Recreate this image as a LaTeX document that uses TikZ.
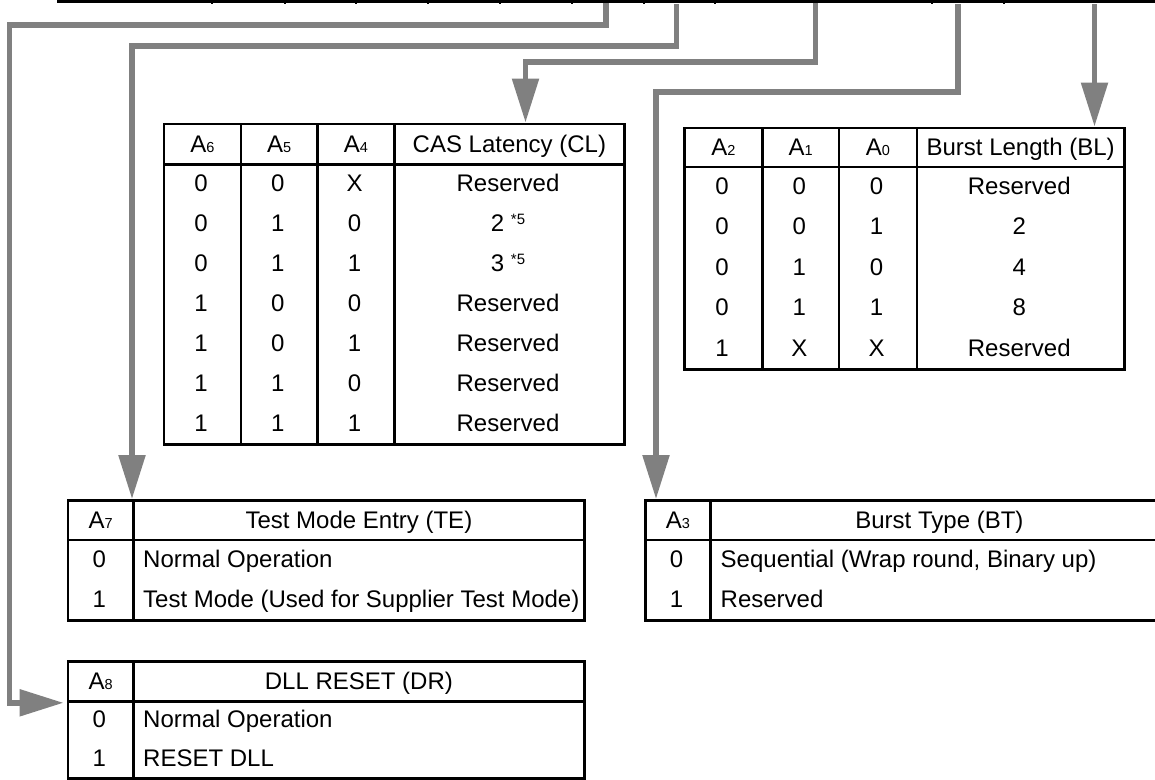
\documentclass[tikz,border=0pt]{standalone}
\usepackage{fontspec}
\setmainfont{Liberation Sans}
\usetikzlibrary{arrows.meta,calc}
\newcommand\sub[1]{{\fontsize{14.5}{14.5}\selectfont #1}}
\newcommand\supfive{\raisebox{7pt}{\fontsize{15}{15}\selectfont *5}}
\tikzset{
  tfont/.style={font=\fontsize{24}{26}\selectfont, text height=17pt, text depth=0pt},
  cellbox/.style={draw, line width=2.8pt, inner sep=0pt, anchor=north west, tfont},
  txt/.style={inner sep=0pt, tfont},
  ltxt/.style={inner sep=0pt, tfont, anchor=west},
  conn/.style={draw=gray, line width=5.5pt, line join=miter, -{Triangle[length=44pt,width=26pt]}},
}
\begin{document}
\begin{tikzpicture}[x=1pt,y=1pt]
\clip (0,0) rectangle (1155,-779);
\fill[white] (0,0) rectangle (1155,-779);

% bottom edge of the register diagram (cropped)
\draw[line width=3pt] (57,-1.5) -- (1160,-1.5);
\foreach \x in {212,285,356,428,500,572,644,715,932,1004}
  \draw[line width=2pt] (\x,0) -- (\x,-4);

% ---------- CAS latency table ----------
\foreach \n/\x/\w/\t in {0/162.5/77/A\sub{6},1/239.5/76.5/A\sub{5},2/316/77/A\sub{4},3/393/230/{CAS Latency (CL)}} {
  \node[cellbox, minimum width=\w, minimum height=40.5] (clh\n) at (\x,-122.5) {\t};
  \node[cellbox, minimum width=\w, minimum height=280] (clb\n) at (\x,-163) {};
}
\foreach \r/\a/\b/\c/\d in {0/0/0/X/Reserved,1/0/1/0/{2 \supfive},2/0/1/1/{3 \supfive},3/1/0/0/Reserved,4/1/0/1/Reserved,5/1/1/0/Reserved,6/1/1/1/Reserved} {
  \node[txt] (cla\r) at (201,{-183-40*\r}) {\a};
  \node[txt] (clbb\r) at (277.75,{-183-40*\r}) {\b};
  \node[txt] (clc\r) at (354.5,{-183-40*\r}) {\c};
  \node[txt] (cld\r) at (508,{-183-40*\r}) {\d};
}

% ---------- Burst length table ----------
\foreach \n/\x/\w/\t in {0/683/78/A\sub{2},1/761/76.5/A\sub{1},2/837.5/78/A\sub{0},3/915.5/207.5/{Burst Length (BL)}} {
  \node[cellbox, minimum width=\w, minimum height=39] (blh\n) at (\x,-126.5) {\t};
  \node[cellbox, minimum width=\w, minimum height=202.5] (blb\n) at (\x,-165.5) {};
}
\foreach \r/\a/\b/\c/\d in {0/0/0/0/Reserved,1/0/0/1/2,2/0/1/0/4,3/0/1/1/8,4/1/X/X/Reserved} {
  \node[txt] (bla\r) at (722,{-185.75-40.5*\r}) {\a};
  \node[txt] (blbb\r) at (799.25,{-185.75-40.5*\r}) {\b};
  \node[txt] (blc\r) at (876.5,{-185.75-40.5*\r}) {\c};
  \node[txt] (bld\r) at (1019.25,{-185.75-40.5*\r}) {\d};
}

% ---------- Test mode table ----------
\node[cellbox, minimum width=65.5, minimum height=39.5] (a7h0) at (66.5,-499) {A\sub{7}};
\node[cellbox, minimum width=451, minimum height=39.5] (a7h1) at (132,-499) {Test Mode Entry (TE)};
\node[cellbox, minimum width=65.5, minimum height=80.5] (a7b0) at (66.5,-538.5) {};
\node[cellbox, minimum width=451, minimum height=80.5] (a7b1) at (132,-538.5) {};
\node[txt] (a7v0) at (99.25,-558.6) {0};
\node[ltxt] (a7d0) at (143,-558.6) {Normal Operation};
\node[txt] (a7v1) at (99.25,-599) {1};
\node[ltxt] (a7d1) at (143,-599) {Test Mode (Used for Supplier Test Mode)};

% ---------- Burst type table ----------
\node[cellbox, minimum width=65, minimum height=39.5] (a3h0) at (644,-499) {A\sub{3}};
\node[cellbox, minimum width=458, minimum height=39.5] (a3h1) at (709,-499) {Burst Type (BT)};
\node[cellbox, minimum width=65, minimum height=80.5] (a3b0) at (644,-538.5) {};
\node[cellbox, minimum width=458, minimum height=80.5] (a3b1) at (709,-538.5) {};
\node[txt] (a3v0) at (676.5,-558.6) {0};
\node[ltxt] (a3d0) at (720.5,-558.6) {Sequential (Wrap round, Binary up)};
\node[txt] (a3v1) at (676.5,-599) {1};
\node[ltxt] (a3d1) at (720.5,-599) {Reserved};

% ---------- DLL reset table ----------
\node[cellbox, minimum width=65.5, minimum height=40] (a8h0) at (66.5,-660) {A\sub{8}};
\node[cellbox, minimum width=451, minimum height=40] (a8h1) at (132,-660) {DLL RESET (DR)};
\node[cellbox, minimum width=65.5, minimum height=77] (a8b0) at (66.5,-700) {};
\node[cellbox, minimum width=451, minimum height=77] (a8b1) at (132,-700) {};
\node[txt] (a8v0) at (99.25,-719.25) {0};
\node[ltxt] (a8d0) at (143,-719.25) {Normal Operation};
\node[txt] (a8v1) at (99.25,-757.75) {1};
\node[ltxt] (a8d1) at (143,-757.75) {RESET DLL};

% ---------- connectors ----------
\coordinate (s1) at (606,-3);
\coordinate (k1) at (9.5,-25);
\coordinate (s2) at (676.5,-4);
\coordinate (k2) at (132,-46);
\coordinate (s3) at (815.5,-3);
\coordinate (k3) at (525.5,-62);
\coordinate (s4) at (958,-4);
\coordinate (k4) at (656,-92);
\coordinate (s5) at (1094.5,-4);

\draw[conn, shorten >=3pt] (s1) |- (k1) |- (a8h0.south west);
\draw[conn] (s2) |- (k2) -- (a7h1.north west);
\draw[conn] (s3) |- (k3) -- (k3 |- clh3.north);
\draw[conn] (s4) |- (k4) -- (k4 |- a3h0.north);
\draw[conn] (s5) -- (s5 |- blh3.north);
\end{tikzpicture}
\end{document}
